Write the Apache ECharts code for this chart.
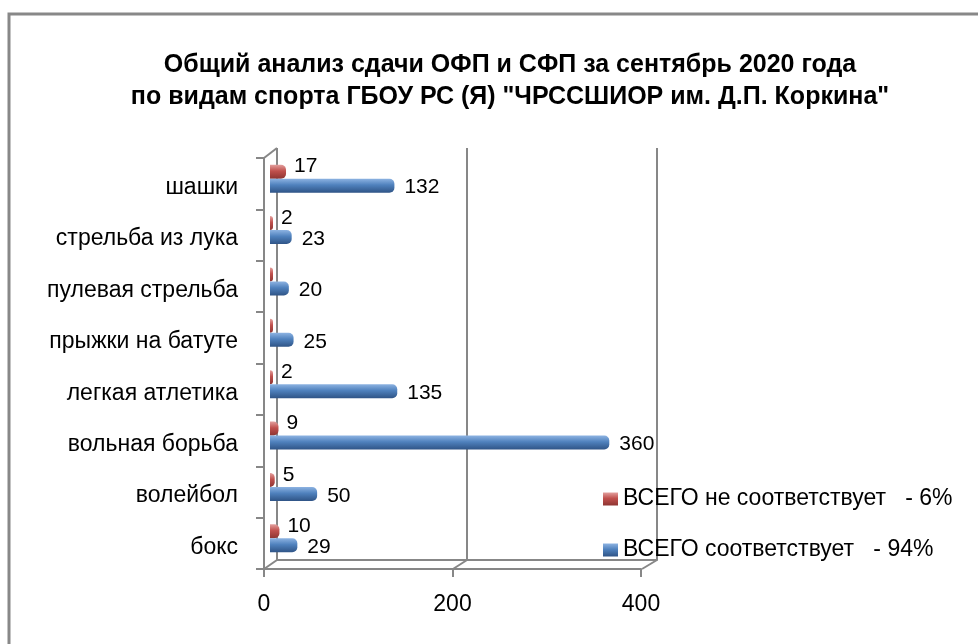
<!DOCTYPE html>
<html><head><meta charset="utf-8">
<script src="https://cdn.jsdelivr.net/npm/echarts@6/dist/echarts.min.js"></script>
<style>html,body{margin:0;padding:0;background:#fff}#c{width:978px;height:644px}</style>
</head><body><div id="c"></div>
<script>
const categories = ["шашки","стрельба из лука","пулевая стрельба","прыжки на батуте","легкая атлетика","вольная борьба","волейбол","бокс"];
const notMatching = [17,2,0,0,2,9,5,10];
const matching = [132,23,20,25,135,360,50,29];
const seriesNames = ["ВСЕГО не соответствует   - 6%","ВСЕГО соответствует   - 94%"];
const xTicks = [0,200,400];
const titleLines = ['Общий анализ сдачи ОФП и СФП за сентябрь 2020 года','по видам спорта ГБОУ РС (Я) "ЧРССШИОР им. Д.П. Коркина"'];

const FONT = 'Liberation Sans';
const AX = '#878787';
const chart = echarts.init(document.getElementById('c'), null, {renderer:'canvas'});
function grad(light, mid, dark){
  return new echarts.graphic.LinearGradient(0,0,0,1,[
    {offset:0,color:light},{offset:0.45,color:mid},{offset:1,color:dark}]);
}
const xMin = xTicks[0], xMax = xTicks[xTicks.length-1], xInt = xTicks[1]-xTicks[0];
const frameLine = (x1,y1,x2,y2)=>({type:'line',shape:{x1,y1,x2,y2},style:{stroke:AX,lineWidth:2},z:1});
chart.setOption({
  backgroundColor:'#fff',
  animation:false,
  graphic:[
    {type:'rect',shape:{x:9,y:14,width:1000,height:700},style:{fill:'none',stroke:'#888',lineWidth:3},z:0},
    {type:'text',x:510,y:65,style:{text:titleLines[0],font:'bold 25px '+FONT,fill:'#000',textAlign:'center',textVerticalAlign:'middle'}},
    {type:'text',x:510,y:97,style:{text:titleLines[1],font:'bold 25px '+FONT,fill:'#000',textAlign:'center',textVerticalAlign:'middle'}},
    frameLine(264,158,277,148),
    frameLine(264,569,277,560),
    frameLine(453,569,467,560),
    frameLine(642,569,657,560)
  ],
  legend:{
    orient:'vertical',left:598,top:481,itemWidth:15,itemHeight:13,itemGap:25,icon:'rect',
    data:seriesNames,
    textStyle:{fontFamily:FONT,fontSize:23,color:'#000',lineHeight:26}
  },
  grid:[
    {left:277,top:148,width:380,height:412},
    {left:270,top:153,width:377,height:411},
    {left:264,top:158,width:377,height:411}
  ],
  xAxis:[
    {gridIndex:0,type:'value',min:xMin,max:xMax,interval:xInt,
     axisLine:{show:true,lineStyle:{color:AX,width:2}},axisTick:{show:false},axisLabel:{show:false},
     splitLine:{show:true,lineStyle:{color:AX,width:2}}},
    {gridIndex:1,type:'value',min:xMin,max:xMax,interval:xInt,show:false,splitLine:{show:false}},
    {gridIndex:2,type:'value',min:xMin,max:xMax,interval:xInt,
     axisLine:{show:true,lineStyle:{color:AX,width:2}},
     axisTick:{show:true,length:8,lineStyle:{color:AX,width:2}},
     axisLabel:{show:true,fontFamily:FONT,fontSize:23,color:'#000',margin:24},
     splitLine:{show:false}}
  ],
  yAxis:[
    {gridIndex:0,type:'category',data:categories,inverse:true,show:false},
    {gridIndex:1,type:'category',data:categories,inverse:true,show:false},
    {gridIndex:2,type:'category',data:categories,inverse:true,
     axisLine:{show:true,lineStyle:{color:AX,width:2}},
     axisTick:{show:true,length:8,lineStyle:{color:AX,width:2}},
     axisLabel:{margin:26,formatter:v=>'{a|'+v+'}',
       rich:{a:{fontFamily:FONT,fontSize:23,color:'#000',padding:[8,0,0,0]}}},
     splitLine:{show:false}}
  ],
  series:[
    {name:seriesNames[0],type:'bar',xAxisIndex:1,yAxisIndex:1,data:notMatching,
     barWidth:14,barGap:'0%',barMinHeight:3,
     itemStyle:{color:grad('#E3A09E','#C0504D','#8E3532'),borderRadius:[0,5,5,0]},
     label:{show:true,position:'right',distance:8,offset:[0,-5],fontFamily:FONT,fontSize:21,color:'#000',
       formatter:p=>p.value?String(p.value):''}},
    {name:seriesNames[1],type:'bar',xAxisIndex:1,yAxisIndex:1,data:matching,
     barWidth:14,barGap:'0%',
     itemStyle:{color:grad('#8DB3E2','#4F81BD','#2F5486'),borderRadius:[0,5,5,0]},
     label:{show:true,position:'right',distance:10,offset:[0,2],fontFamily:FONT,fontSize:21,color:'#000'}}
  ]
});
</script></body></html>
